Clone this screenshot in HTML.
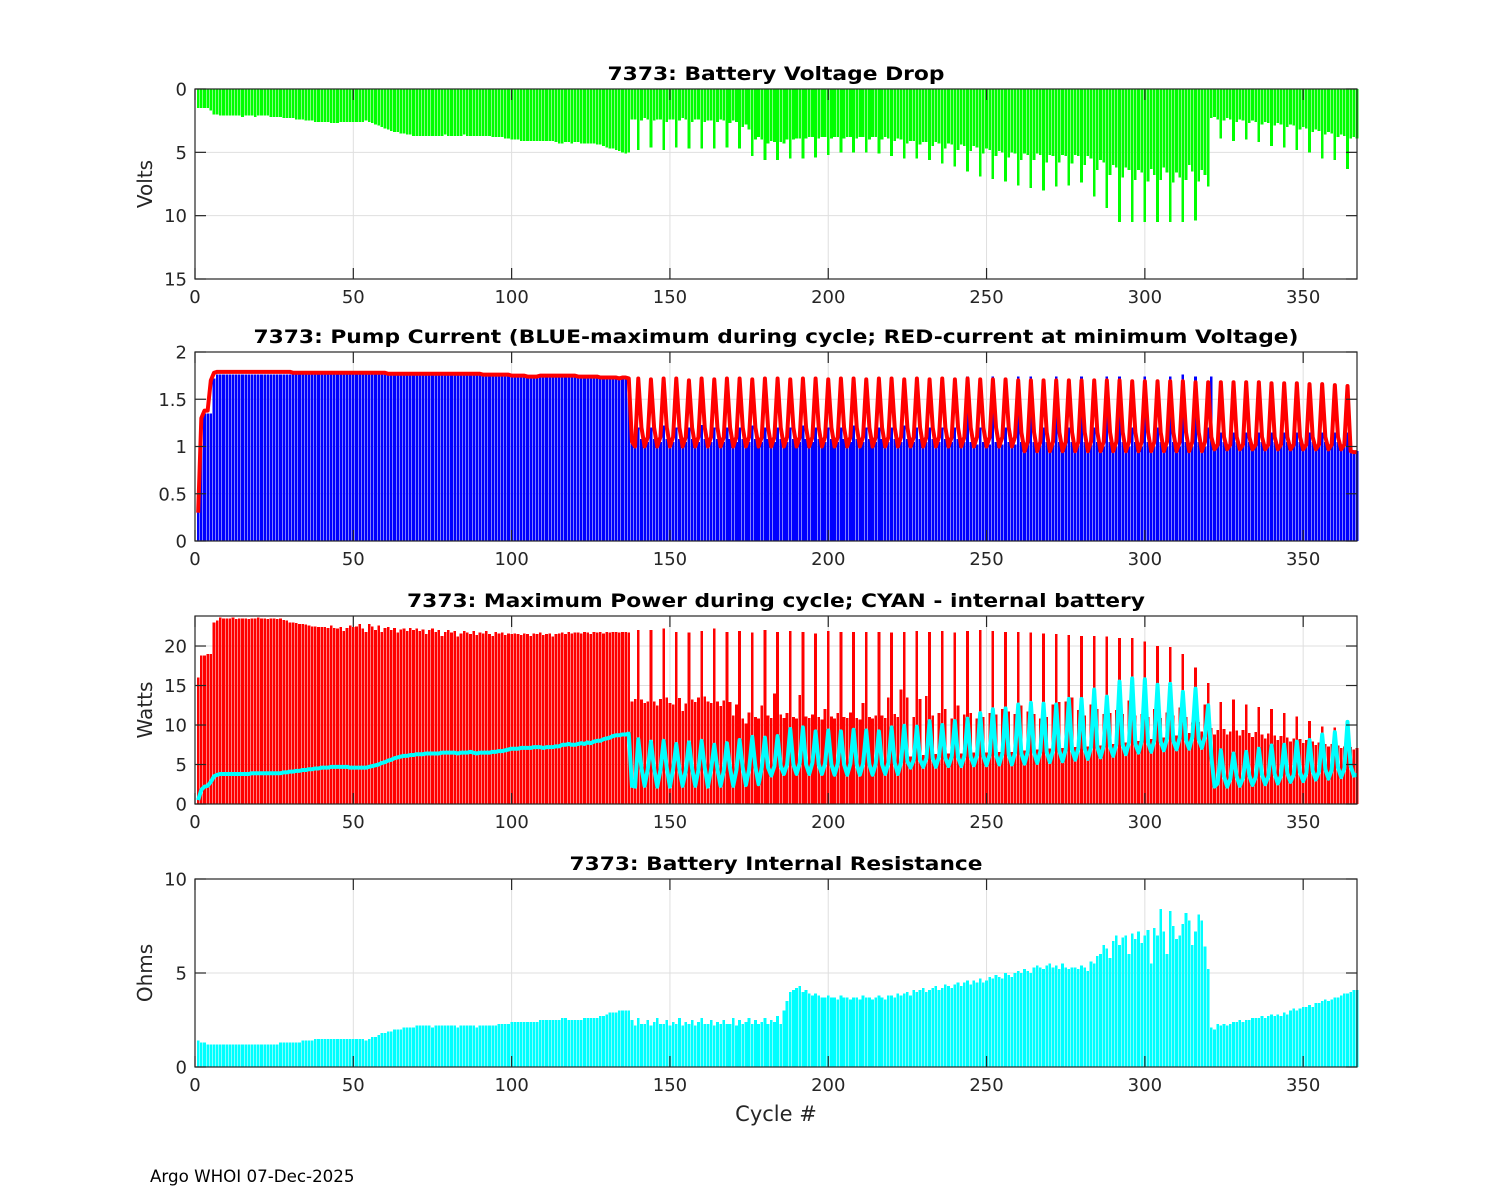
<!DOCTYPE html>
<html><head><meta charset="utf-8"><style>
html,body{margin:0;padding:0;background:#fff;}
svg{display:block;font-family:"DejaVu Sans","Liberation Sans",sans-serif;}
</style></head><body>
<svg id="fig" width="1500" height="1200" viewBox="0 0 1500 1200" xmlns="http://www.w3.org/2000/svg">
<rect x="0" y="0" width="1500" height="1200" fill="#fff"/>
<text x="150" y="1182" font-size="16.7" fill="#000">Argo WHOI 07-Dec-2025</text>
<text x="776" y="1121" font-size="21" fill="#262626" text-anchor="middle">Cycle #</text>
</svg>
<script>
const xTicks=[0,50,100,150,200,250,300,350];
const voltPre=[1.5,1.5,1.5,1.5,1.7,2.0,2.0,2.1,2.1,2.1,
2.1,2.1,2.1,2.1,2.2,2.1,2.1,2.1,2.2,2.1,
2.1,2.1,2.1,2.2,2.2,2.2,2.2,2.3,2.3,2.3,
2.3,2.4,2.4,2.4,2.5,2.5,2.5,2.6,2.6,2.6,
2.6,2.6,2.7,2.7,2.7,2.6,2.6,2.6,2.6,2.6,
2.6,2.6,2.6,2.5,2.6,2.7,2.8,2.9,3.0,3.1,
3.2,3.3,3.4,3.4,3.5,3.5,3.6,3.6,3.7,3.7,
3.7,3.7,3.7,3.7,3.7,3.7,3.7,3.7,3.6,3.7,
3.7,3.7,3.7,3.7,3.6,3.7,3.7,3.7,3.7,3.7,
3.7,3.7,3.7,3.8,3.8,3.8,3.8,3.9,3.9,4.0,
4.0,4.0,4.1,4.1,4.1,4.1,4.1,4.1,4.1,4.1,
4.1,4.1,4.1,4.2,4.3,4.3,4.2,4.2,4.3,4.2,
4.2,4.3,4.3,4.3,4.3,4.3,4.4,4.4,4.5,4.6,
4.7,4.7,4.8,4.9,5.0,5.1,5.0];
const voltPost=[2.4,2.4,
4.8,2.5,2.3,2.4, 4.6,2.5,2.4,2.4, 4.8,2.6,2.4,2.4, 4.6,2.5,2.3,2.4,
4.7,2.6,2.4,2.4, 4.7,2.6,2.5,2.5, 4.7,2.6,2.4,2.5, 4.6,2.7,2.5,2.6,
4.7,3.0,2.8,3.2, 5.3,4.0,3.8,4.0, 5.6,4.3,4.1,4.2, 5.6,4.2,4.3,4.0,
5.5,4.0,3.9,3.9, 5.5,3.9,3.8,3.8, 5.4,3.9,3.8,3.8, 5.2,3.9,3.8,3.8,
5.0,3.9,3.8,3.8, 5.0,3.9,3.8,3.8, 5.0,4.0,3.8,3.8, 5.1,4.0,3.8,3.9,
5.3,4.1,3.9,4.0, 5.5,4.3,4.1,4.1, 5.5,4.4,4.2,4.2, 5.6,4.5,4.2,4.3,
5.9,4.7,4.3,4.4, 6.1,4.8,4.4,4.5, 6.5,4.9,4.5,4.6, 6.9,5.1,4.7,4.8,
7.1,5.3,4.9,5.0, 7.3,5.4,5.0,5.1, 7.6,5.6,5.1,5.2, 7.8,5.6,5.1,5.2,
8.0,5.8,5.2,5.3, 7.7,5.8,5.2,5.3, 7.6,5.9,5.2,5.3, 7.4,6.0,5.3,5.5,
8.5,6.4,5.6,5.8, 9.4,6.8,6.0,6.2, 10.5,7.0,6.2,6.4, 10.5,7.2,6.4,6.6,
10.5,7.3,6.3,6.8, 10.5,7.2,6.2,6.6, 10.5,7.4,6.6,7.0, 10.5,7.2,6.0,6.5,
10.4,7.3,6.4,6.8, 7.7,2.3,2.2,2.4, 3.9,2.5,2.3,2.4, 4.1,2.6,2.4,2.5,
4.0,2.7,2.5,2.6, 4.2,2.8,2.6,2.7, 4.5,2.9,2.7,2.8, 4.6,3.0,2.8,2.9,
4.8,3.2,3.0,3.1, 5.0,3.4,3.2,3.3, 5.5,3.6,3.4,3.5, 5.6,3.8,3.6,3.7,
6.3,3.9,3.8,3.9];
const bluePre=[0.3,1.1,1.35,1.35,1.35,1.72,1.76,1.76,1.76,1.76,
1.76,1.76,1.76,1.76,1.76,1.76,1.76,1.76,1.76,1.76,
1.76,1.76,1.76,1.76,1.76,1.76,1.76,1.76,1.76,1.76,
1.76,1.76,1.76,1.76,1.76,1.76,1.76,1.76,1.76,1.76,
1.76,1.76,1.76,1.76,1.76,1.76,1.76,1.76,1.76,1.76,
1.76,1.76,1.76,1.76,1.76,1.76,1.76,1.76,1.76,1.76,
1.75,1.75,1.75,1.75,1.75,1.75,1.75,1.75,1.75,1.75,
1.75,1.75,1.75,1.75,1.75,1.75,1.75,1.75,1.75,1.75,
1.75,1.75,1.75,1.75,1.75,1.75,1.75,1.75,1.75,1.75,
1.75,1.75,1.75,1.75,1.75,1.75,1.75,1.75,1.75,1.75,
1.74,1.74,1.74,1.74,1.74,1.74,1.74,1.74,1.74,1.74,
1.74,1.74,1.74,1.74,1.74,1.74,1.74,1.74,1.74,1.74,
1.73,1.73,1.73,1.73,1.73,1.73,1.73,1.73,1.73,1.73,
1.72,1.72,1.72,1.72,1.72,1.72,1.72];
const bluePost=[1.05,1.05,
1.2,1.08,1.02,1.05, 1.2,1.08,1.02,1.05, 1.22,1.08,1.02,1.05, 1.2,1.08,1.02,1.05,
1.2,1.08,1.02,1.05, 1.23,1.08,1.02,1.05, 1.2,1.08,1.02,1.05, 1.2,1.08,1.02,1.05,
1.2,1.08,1.02,1.05, 1.22,1.08,1.02,1.05, 1.2,1.08,1.02,1.05, 1.2,1.08,1.02,1.05,
1.2,1.08,1.02,1.05, 1.22,1.08,1.02,1.05, 1.2,1.08,1.02,1.05, 1.2,1.08,1.02,1.05,
1.2,1.08,1.02,1.05, 1.22,1.08,1.02,1.05, 1.2,1.08,1.02,1.05, 1.2,1.08,1.02,1.05,
1.2,1.08,1.02,1.05, 1.22,1.08,1.02,1.05, 1.2,1.08,1.02,1.05, 1.2,1.08,1.02,1.05,
1.2,1.08,1.02,1.05, 1.2,1.08,1.02,1.05, 1.74,1.05,1.0,1.02, 1.2,1.05,1.0,1.02,
1.74,1.05,1.0,1.02, 1.2,1.05,1.0,1.02, 1.74,1.05,1.0,1.02, 1.74,1.05,1.0,1.02,
1.2,1.05,1.0,1.02, 1.74,1.05,1.0,1.02, 1.2,1.05,1.0,1.02, 1.74,1.05,1.0,1.02,
1.2,1.05,0.98,1.0, 1.74,1.05,0.98,1.0, 1.74,1.05,0.98,1.0, 1.2,1.05,0.98,1.0,
1.74,1.05,0.98,1.0, 1.2,1.05,0.98,1.0, 1.74,1.05,0.98,1.0, 1.76,1.05,0.98,1.0,
1.74,1.05,0.98,1.0, 1.2,1.74,1.0,1.02, 1.15,1.05,1.0,1.02, 1.15,1.05,1.0,1.02,
1.15,1.05,1.0,1.02, 1.15,1.05,1.0,1.02, 1.15,1.05,1.0,1.02, 1.15,1.05,1.0,1.02,
1.15,1.05,1.0,1.02, 1.15,1.05,1.0,1.02, 1.15,1.05,1.0,1.02, 1.15,1.05,1.0,1.02,
1.15,1.0,0.95,0.95];
const redPre=[0.3,1.3,1.38,1.38,1.7,1.78,1.79,1.79,1.79,1.79,
1.79,1.79,1.79,1.79,1.79,1.79,1.79,1.79,1.79,1.79,
1.79,1.79,1.79,1.79,1.79,1.79,1.79,1.79,1.79,1.79,
1.78,1.78,1.78,1.78,1.78,1.78,1.78,1.78,1.78,1.78,
1.78,1.78,1.78,1.78,1.78,1.78,1.78,1.78,1.78,1.78,
1.78,1.78,1.78,1.78,1.78,1.78,1.78,1.78,1.78,1.78,
1.77,1.77,1.77,1.77,1.77,1.77,1.77,1.77,1.77,1.77,
1.77,1.77,1.77,1.77,1.77,1.77,1.77,1.77,1.77,1.77,
1.77,1.77,1.77,1.77,1.77,1.77,1.77,1.77,1.77,1.77,
1.76,1.76,1.76,1.76,1.76,1.76,1.76,1.76,1.76,1.75,
1.75,1.75,1.75,1.75,1.74,1.74,1.74,1.74,1.75,1.75,
1.75,1.75,1.75,1.75,1.75,1.75,1.75,1.75,1.75,1.75,
1.74,1.74,1.74,1.74,1.74,1.74,1.74,1.73,1.73,1.73,
1.73,1.73,1.73,1.72,1.73,1.73,1.72];
const redPost=[1.05,1.0,
1.72,1.2,1.0,1.1, 1.71,1.2,1.0,1.1, 1.72,1.2,1.0,1.1, 1.72,1.2,1.0,1.1,
1.70,1.2,1.0,1.1, 1.72,1.2,1.0,1.1, 1.71,1.2,1.0,1.1, 1.72,1.2,1.0,1.1,
1.72,1.2,1.0,1.1, 1.71,1.2,1.0,1.1, 1.72,1.2,1.0,1.1, 1.72,1.2,1.0,1.1,
1.71,1.2,1.0,1.1, 1.72,1.2,1.0,1.1, 1.72,1.2,1.0,1.1, 1.71,1.2,1.0,1.1,
1.72,1.2,1.0,1.1, 1.72,1.2,1.0,1.1, 1.71,1.2,1.0,1.1, 1.72,1.2,1.0,1.1,
1.72,1.2,1.0,1.1, 1.71,1.2,1.0,1.1, 1.72,1.2,1.0,1.1, 1.71,1.2,1.0,1.1,
1.72,1.2,1.0,1.1, 1.71,1.2,1.0,1.1, 1.72,1.2,1.0,1.1, 1.71,1.2,1.0,1.1,
1.71,1.2,1.0,1.1, 1.71,1.2,1.0,1.1, 1.70,1.15,0.95,1.05, 1.70,1.15,0.95,1.05,
1.70,1.15,0.95,1.05, 1.70,1.15,0.95,1.05, 1.70,1.15,0.95,1.05, 1.70,1.15,0.95,1.05,
1.70,1.15,0.95,1.05, 1.70,1.15,0.95,1.05, 1.70,1.15,0.95,1.05, 1.69,1.15,0.95,1.05,
1.69,1.15,0.95,1.05, 1.69,1.15,0.95,1.05, 1.69,1.15,0.95,1.05, 1.69,1.15,0.95,1.05,
1.68,1.15,0.95,1.05, 1.68,1.1,0.97,1.02, 1.68,1.1,0.97,1.02, 1.68,1.1,0.97,1.02,
1.68,1.1,0.97,1.02, 1.68,1.1,0.97,1.02, 1.67,1.1,0.97,1.02, 1.67,1.1,0.97,1.02,
1.67,1.1,0.97,1.02, 1.66,1.1,0.97,1.02, 1.66,1.1,0.97,1.02, 1.65,1.1,0.97,1.02,
1.64,0.95,0.94,0.94];
const powPre=[16.0,18.8,18.8,19.0,19.0,23.0,23.2,23.6,23.5,23.5,
23.5,23.6,23.4,23.5,23.5,23.5,23.4,23.5,23.5,23.6,
23.5,23.5,23.4,23.5,23.5,23.4,23.5,23.3,23.2,23.0,
23.0,22.9,22.8,22.8,22.7,22.6,22.5,22.5,22.4,22.4,
22.4,22.3,22.6,22.3,22.2,22.4,21.9,22.3,22.6,22.4,
22.5,22.8,22.2,21.8,22.8,22.5,22.0,22.6,21.8,22.3,
22.4,22.0,22.3,21.7,22.1,22.2,21.9,22.3,22.0,22.2,
21.9,22.1,21.5,22.0,22.2,21.8,22.0,21.3,21.8,22.0,
21.7,21.9,21.2,21.6,21.9,21.7,21.5,21.9,21.4,21.7,
21.6,21.9,21.5,21.3,21.8,21.6,21.7,21.4,21.6,21.5,
21.6,21.5,21.4,21.6,21.5,21.3,21.6,21.5,21.7,21.4,
21.5,21.6,21.2,21.5,21.6,21.7,21.5,21.8,21.6,21.7,
21.7,21.6,21.8,21.7,21.5,21.8,21.7,21.8,21.6,21.8,
21.7,21.8,21.8,21.7,21.8,21.8,21.7];
const powPost=[13.0,13.3,
22.0,13.2,12.8,13.0, 22.0,13.0,12.5,13.3, 22.2,13.5,12.8,12.6, 21.8,13.4,11.8,12.7,
21.7,13.2,12.9,13.5, 21.9,13.6,13.0,12.8, 22.2,13.0,12.4,13.1, 21.8,12.9,11.2,12.6,
21.9,10.8,10.2,11.6, 21.7,11.0,10.8,12.5, 22.0,11.2,10.9,14.0, 21.8,11.3,10.9,11.5,
21.9,11.0,10.8,13.8, 21.8,11.1,10.9,11.3, 21.6,11.0,10.7,12.0, 21.9,11.1,10.8,11.5,
21.8,11.0,10.9,11.6, 21.8,10.9,10.7,12.8, 21.8,11.0,10.8,11.2, 21.8,11.2,10.9,13.5,
21.7,11.4,11.0,14.5, 21.8,13.5,6.0,11.0, 21.9,13.3,6.2,13.7, 21.8,11.2,6.3,11.5,
21.9,12.0,6.4,10.8, 21.7,12.5,6.4,11.3, 21.9,11.5,6.5,10.8, 22.0,11.0,6.5,11.5,
21.9,11.3,6.6,12.0, 21.8,11.7,6.6,11.4, 21.8,12.5,6.8,11.7, 21.7,11.4,6.9,10.8,
21.6,11.0,7.0,12.6, 21.5,12.9,7.1,13.0, 21.4,13.5,7.2,11.9, 21.3,11.2,7.3,12.6,
21.3,12.0,7.4,11.4, 21.2,11.5,7.6,11.9, 21.0,11.4,7.8,13.1, 21.0,11.2,8.0,11.4,
20.6,11.0,8.2,12.0, 20.0,10.9,8.4,11.6, 19.9,11.2,8.7,12.2, 19.0,11.0,9.0,10.3,
17.3,10.4,9.2,12.6, 15.3,9.6,8.8,9.4, 12.9,9.5,8.8,9.2, 13.2,9.3,8.7,9.4,
12.6,9.0,8.5,9.1, 12.3,8.8,8.3,8.9, 12.0,8.7,8.1,8.6, 11.5,8.4,7.9,8.3,
11.1,8.2,7.7,8.1, 10.5,7.9,7.5,7.8, 9.8,7.6,7.3,7.6, 9.7,7.4,7.1,7.3,
10.0,7.2,6.9,7.1];
const cyanPre=[0.5,1.8,2.2,2.3,2.8,3.5,3.7,3.8,3.8,3.8,
3.8,3.8,3.8,3.8,3.8,3.8,3.8,3.9,3.9,3.9,
3.9,3.9,3.9,3.9,3.9,3.9,3.9,4.0,4.0,4.1,
4.1,4.2,4.2,4.3,4.3,4.4,4.4,4.5,4.5,4.6,
4.6,4.6,4.7,4.7,4.7,4.7,4.7,4.7,4.6,4.6,
4.6,4.6,4.6,4.6,4.7,4.8,4.9,5.0,5.2,5.3,
5.5,5.6,5.8,5.9,6.0,6.1,6.1,6.2,6.2,6.3,
6.3,6.3,6.4,6.4,6.4,6.4,6.4,6.5,6.5,6.5,
6.5,6.5,6.4,6.5,6.5,6.5,6.6,6.5,6.4,6.5,
6.5,6.5,6.5,6.6,6.6,6.7,6.7,6.8,6.9,7.0,
7.0,7.0,7.1,7.1,7.1,7.1,7.2,7.2,7.2,7.1,
7.2,7.2,7.2,7.3,7.3,7.5,7.5,7.6,7.5,7.5,
7.6,7.7,7.6,7.8,7.7,7.9,8.0,8.0,8.2,8.3,
8.4,8.6,8.7,8.7,8.8,8.8,8.9];
const cyanPost=[2.3,2.2,
8.2,4.6,2.3,4.4, 7.9,4.5,2.2,4.3, 8.0,4.6,2.2,4.4, 7.6,4.4,2.3,4.2,
7.8,4.5,2.3,4.3, 8.0,4.6,2.2,4.4, 7.5,4.4,2.3,4.2, 7.7,4.5,2.3,4.3,
8.1,4.6,2.4,4.4, 8.5,4.7,2.5,4.6, 8.4,4.6,3.6,4.8, 8.6,4.8,3.8,5.0,
9.5,5.0,3.8,5.2, 9.7,5.0,3.8,5.2, 9.2,5.0,3.8,5.1, 9.3,5.0,3.7,5.1,
9.2,5.0,3.7,5.1, 9.4,5.0,3.7,5.1, 9.3,5.0,3.7,5.1, 9.2,5.0,3.8,5.2,
9.7,5.2,3.8,5.3, 9.9,5.4,4.6,5.6, 9.8,5.6,4.7,5.8, 10.5,5.8,4.7,6.0,
10.0,5.8,4.8,6.0, 10.5,5.9,4.8,6.1, 10.8,6.0,4.9,6.2, 11.5,6.1,4.9,6.3,
12.0,6.2,5.0,6.4, 12.1,6.3,5.0,6.5, 12.6,6.4,5.1,6.6, 12.8,6.5,5.2,6.7,
12.7,6.6,5.3,6.8, 12.6,6.7,5.4,6.9, 13.3,6.9,5.6,7.1, 13.3,7.0,5.7,7.2,
14.5,7.2,5.9,7.4, 13.6,7.3,6.1,7.6, 15.5,7.5,6.3,7.8, 15.9,7.6,6.5,8.0,
15.8,7.8,6.6,8.1, 15.1,7.9,6.8,8.3, 15.2,8.0,6.9,8.4, 14.2,8.1,7.0,8.5,
14.6,8.2,7.1,8.6, 12.5,6.0,2.2,2.6, 6.8,3.5,2.2,3.2, 6.4,3.5,2.3,3.3,
6.6,3.6,2.4,3.4, 7.0,3.7,2.5,3.5, 7.4,3.8,2.6,3.6, 7.5,3.9,2.8,3.7,
7.9,4.0,2.9,3.9, 8.1,4.2,3.1,4.1, 8.8,4.4,3.2,4.3, 9.1,4.6,3.4,4.5,
10.4,4.8,3.6,3.7];
const resist=[1.4,1.3,1.3,1.2,1.2,1.2,1.2,1.2,1.2,1.2,
1.2,1.2,1.2,1.2,1.2,1.2,1.2,1.2,1.2,1.2,
1.2,1.2,1.2,1.2,1.2,1.2,1.3,1.3,1.3,1.3,
1.3,1.3,1.3,1.4,1.4,1.4,1.4,1.5,1.5,1.5,
1.5,1.5,1.5,1.5,1.5,1.5,1.5,1.5,1.5,1.5,
1.5,1.5,1.5,1.4,1.5,1.6,1.6,1.7,1.8,1.8,
1.9,1.9,2.0,2.0,2.0,2.1,2.1,2.1,2.1,2.2,
2.2,2.2,2.2,2.2,2.1,2.2,2.2,2.2,2.2,2.2,
2.2,2.2,2.1,2.2,2.2,2.2,2.2,2.2,2.1,2.2,
2.2,2.2,2.2,2.2,2.2,2.3,2.3,2.3,2.3,2.4,
2.4,2.4,2.4,2.4,2.4,2.4,2.4,2.4,2.5,2.5,
2.5,2.5,2.5,2.5,2.5,2.6,2.6,2.5,2.5,2.5,
2.5,2.5,2.6,2.6,2.6,2.6,2.6,2.7,2.7,2.8,
2.9,2.9,2.9,3.0,3.0,3.0,3.0,
2.5,2.2,2.6,2.3,2.3,2.5,2.2,2.4,2.6,2.3,
2.3,2.5,2.2,2.4,2.3,2.6,2.2,2.4,2.3,2.5,
2.2,2.4,2.6,2.3,2.3,2.5,2.2,2.4,2.3,2.5,
2.3,2.3,2.6,2.2,2.5,2.3,2.4,2.6,2.3,2.5,
2.3,2.4,2.6,2.3,2.5,2.4,2.7,2.3,3.0,3.5,
4.0,4.1,4.2,4.3,4.0,4.1,3.9,3.8,3.9,3.8,
3.7,3.7,3.8,3.7,3.7,3.6,3.8,3.7,3.7,3.6,
3.7,3.7,3.6,3.8,3.7,3.7,3.6,3.7,3.8,3.7,
3.6,3.8,3.8,3.7,3.9,3.8,3.9,4.0,3.8,4.1,
4.0,4.1,4.2,4.0,4.1,4.2,4.3,4.1,4.2,4.4,
4.3,4.2,4.4,4.5,4.3,4.5,4.6,4.4,4.6,4.5,
4.7,4.5,4.6,4.8,4.7,4.9,4.8,4.7,5.0,4.9,
4.8,5.0,5.1,5.0,5.2,5.1,5.0,5.3,5.4,5.3,
5.2,5.4,5.5,5.3,5.4,5.2,5.5,5.3,5.2,5.3,
5.3,5.2,5.4,5.3,5.1,5.6,5.5,5.9,6.0,6.5,
6.3,5.8,6.7,7.0,6.5,6.9,7.0,6.0,7.1,6.8,
7.2,6.6,7.0,7.3,5.5,7.4,7.0,8.4,7.2,6.0,
8.3,7.5,6.8,7.0,7.6,8.2,7.8,6.5,7.2,8.1,
7.8,6.4,5.2,2.1,2.0,2.3,2.2,2.3,2.2,2.3,
2.4,2.4,2.5,2.4,2.5,2.5,2.6,2.6,2.6,2.7,
2.6,2.7,2.8,2.7,2.8,2.7,2.9,2.8,3.0,3.1,
3.0,3.1,3.2,3.2,3.3,3.2,3.4,3.4,3.5,3.6,
3.5,3.6,3.7,3.7,3.8,3.9,3.9,4.0,4.1,4.1];
const voltTicks=[0,5,10,15];
const currTicks=[0,0.5,1,1.5,2];
const powTicks=[0,5,10,15,20];
const resTicks=[0,5,10];

const volt=voltPre.concat(voltPost), blue=bluePre.concat(bluePost), red=redPre.concat(redPost);
const pow=powPre.concat(powPost), cyan=cyanPre.concat(cyanPost);

const NS='http://www.w3.org/2000/svg';
const svg=document.getElementById('fig');
const X0=195,X1=1357,XMAX=367;
function xs(c){return X0+c*(X1-X0)/XMAX;}
function mk(tag,attrs,parent){const e=document.createElementNS(NS,tag);for(const k in attrs)e.setAttribute(k,attrs[k]);(parent||svg).appendChild(e);return e;}

function panel(cfg){
  const g=mk('g',{});
  
  
  const top=cfg.top,bot=cfg.bot,ymax=cfg.ymax;
  const ys=v=>cfg.rev? top+v*(bot-top)/ymax : bot-v*(bot-top)/ymax;
  xTicks.forEach(t=>{const l=mk('line',{x1:xs(t),x2:xs(t),y1:top,y2:bot,stroke:'#dfdfdf','stroke-width':1},g);
    
    });
  cfg.ticks.forEach(t=>{const l=mk('line',{x1:X0,x2:X1,y1:ys(t),y2:ys(t),stroke:'#dfdfdf','stroke-width':1},g);
    
    });
  cfg.bars.forEach(b=>{
    const bg=mk('g',{fill:b.color,'shape-rendering':'crispEdges'},g);
    
    
    b.data.forEach((v,i)=>{
      const c=i+1, w=0.85*(X1-X0)/XMAX;
      const y0=ys(0), y1=ys(v);
      const r=mk('rect',{x:(xs(c)-w/2).toFixed(2),y:Math.min(y0,y1).toFixed(2),width:w.toFixed(2),height:Math.abs(y1-y0).toFixed(2)},bg);
      
      
    });
  });
  (cfg.lines||[]).forEach(L=>{
    const d=L.data.map((v,i)=>(i?'L':'M')+xs(i+1).toFixed(2)+','+ys(v).toFixed(2)).join('');
    const p=mk('path',{d:d,fill:'none',stroke:L.color,'stroke-width':4,'stroke-linejoin':'round'},g);
    
    
  });
  const box=mk('rect',{x:X0,y:top,width:X1-X0,height:bot-top,fill:'none',stroke:'#262626','stroke-width':1.2},g);
  
  
  xTicks.forEach(t=>{
    mk('line',{x1:xs(t),x2:xs(t),y1:bot,y2:bot-11,stroke:'#262626','stroke-width':1.2},g);
    mk('line',{x1:xs(t),x2:xs(t),y1:top,y2:top+11,stroke:'#262626','stroke-width':1.2},g);
    const tx=mk('text',{x:xs(t),y:bot+24,'font-size':18,fill:'#262626','text-anchor':'middle'},g);
    tx.textContent=t;
    
    
  });
  cfg.ticks.forEach(t=>{
    mk('line',{x1:X0,x2:X0+11,y1:ys(t),y2:ys(t),stroke:'#262626','stroke-width':1.2},g);
    mk('line',{x1:X1,x2:X1-11,y1:ys(t),y2:ys(t),stroke:'#262626','stroke-width':1.2},g);
    const tx=mk('text',{x:187,y:ys(t)+6.5,'font-size':18,fill:'#262626','text-anchor':'end'},g);
    tx.textContent=t;
    
    
  });
  const ti=mk('text',{x:776,y:top-9,'font-size':19,'font-weight':'bold',fill:'#000','text-anchor':'middle',textLength:cfg.tlen,lengthAdjust:'spacingAndGlyphs'},g);
  ti.textContent=cfg.title;
  
  
  if(cfg.ylabel){
    const cy=(top+bot)/2;
    const yl=mk('text',{x:152,y:cy,'font-size':20,fill:'#262626','text-anchor':'middle',transform:'rotate(-90 152 '+cy+')'},g);
    yl.textContent=cfg.ylabel;
    
    
  }
}

panel({name:'voltage-drop-panel',top:89,bot:279,ymax:15,rev:true,ticks:voltTicks,title:'7373: Battery Voltage Drop',tlen:337,ylabel:'Volts',
  bars:[{name:'voltage-drop-bars',color:'#00ff00',data:volt}]});
panel({name:'pump-current-panel',top:352,bot:541,ymax:2,ticks:currTicks,title:'7373: Pump Current (BLUE-maximum during cycle; RED-current at minimum Voltage)',tlen:1045,
  bars:[{name:'max-current-bars',color:'#0000ff',data:blue}],lines:[{name:'current-at-min-voltage-line',color:'#ff0000',data:red}]});
panel({name:'max-power-panel',top:616,bot:804,ymax:23.8,ticks:powTicks,title:'7373: Maximum Power during cycle; CYAN - internal battery',tlen:738,ylabel:'Watts',
  bars:[{name:'max-power-bars',color:'#ff0000',data:pow}],lines:[{name:'internal-battery-power-line',color:'#00ffff',data:cyan}]});
panel({name:'internal-resistance-panel',top:879,bot:1067,ymax:10,ticks:resTicks,title:'7373: Battery Internal Resistance',tlen:413,ylabel:'Ohms',
  bars:[{name:'internal-resistance-bars',color:'#00ffff',data:resist}]});
</script>
</body></html>
